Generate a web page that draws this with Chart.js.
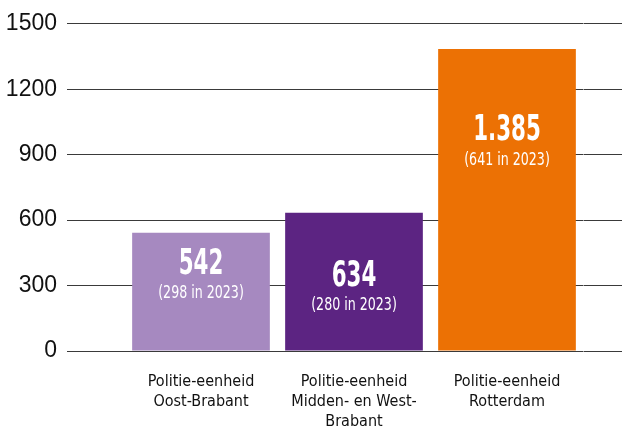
<!DOCTYPE html>
<html>
<head>
<meta charset="utf-8">
<script src="https://cdn.jsdelivr.net/npm/chart.js@4.4.1/dist/chart.umd.min.js"></script>
<style>
  html, body { margin: 0; padding: 0; background: #fff; }
  #wrap { width: 622px; height: 431px; }
</style>
</head>
<body>
<div id="wrap"><canvas id="politieChart"></canvas></div>
<script>
// Gegevens uit de grafiek
const categorieen = [
  ["Politie-eenheid", "Oost-Brabant"],
  ["Politie-eenheid", "Midden- en West-", "Brabant"],
  ["Politie-eenheid", "Rotterdam"]
];
const aantallen2024 = [542, 634, 1385];
const aantallen2023 = [298, 280, 641];
const waardeLabels = ["542", "634", "1.385"];
const yTicks = [0, 300, 600, 900, 1200, 1500];

const kleuren = ["#A689C0", "#5C2482", "#EC7104"];
const labelAfstand = [32, 64, 82]; // afstand van bovenkant balk tot het getal

const smal = "'DejaVu Sans Condensed', 'DejaVu Sans', sans-serif";

// Getallen in de balken tekenen (horizontaal iets smaller gemaakt)
const balkTekst = {
  id: "balkTekst",
  afterDatasetsDraw(chart) {
    const { ctx } = chart;
    const meta = chart.getDatasetMeta(0);
    meta.data.forEach((bar, i) => {
      const y = bar.y + labelAfstand[i];
      ctx.save();
      ctx.fillStyle = "#fff";
      ctx.textAlign = "center";
      ctx.textBaseline = "middle";
      ctx.translate(bar.x, y);
      ctx.save();
      ctx.scale(0.68, 1);
      ctx.font = "bold 35px " + smal;
      ctx.fillText(waardeLabels[i], 0, 0);
      ctx.restore();
      ctx.scale(0.78, 1);
      ctx.font = "18px " + smal;
      ctx.fillText("(" + aantallen2023[i] + " in 2023)", 0, 29);
      ctx.restore();
    });
  }
};

const ctx = document.getElementById("politieChart").getContext("2d");
new Chart(ctx, {
  type: "bar",
  data: {
    labels: categorieen,
    datasets: [{
      data: aantallen2024,
      backgroundColor: kleuren,
      borderWidth: 0,
      categoryPercentage: 1,
      barPercentage: 0.9
    }]
  },
  options: {
    responsive: true,
    maintainAspectRatio: false,
    animation: false,
    layout: { padding: { top: 19, left: 0, right: 0, bottom: 0 } },
    plugins: {
      legend: { display: false },
      tooltip: { enabled: false }
    },
    scales: {
      x: {
        grid: { display: false },
        border: { display: false },
        ticks: {
          color: "#111",
          font: { family: smal, size: 16, lineHeight: "20px" },
          padding: 13,
          maxRotation: 0,
          autoSkip: false
        },
        afterFit(scale) { scale.height = 80; }
      },
      y: {
        min: 0,
        max: 1500,
        afterBuildTicks(scale) { scale.ticks = yTicks.map(v => ({ value: v })); },
        grid: { color: "#3a3a3a", lineWidth: 1, tickLength: 57.5, drawTicks: true },
        border: { display: false },
        ticks: {
          color: "#111",
          font: { family: "'Liberation Sans', Arial, sans-serif", size: 23 },
          padding: 10,
          callback: v => String(v)
        },
        afterFit(scale) { scale.width = 124.5; }
      },
      y2: {
        position: "right",
        min: 0,
        max: 1500,
        afterBuildTicks(scale) { scale.ticks = yTicks.map(v => ({ value: v })); },
        grid: { color: "#3a3a3a", lineWidth: 1, tickLength: 38.5, drawOnChartArea: false },
        border: { display: false },
        ticks: { display: false },
        afterFit(scale) { scale.width = 38.5; }
      }
    }
  },
  plugins: [balkTekst]
});
</script>
</body>
</html>
